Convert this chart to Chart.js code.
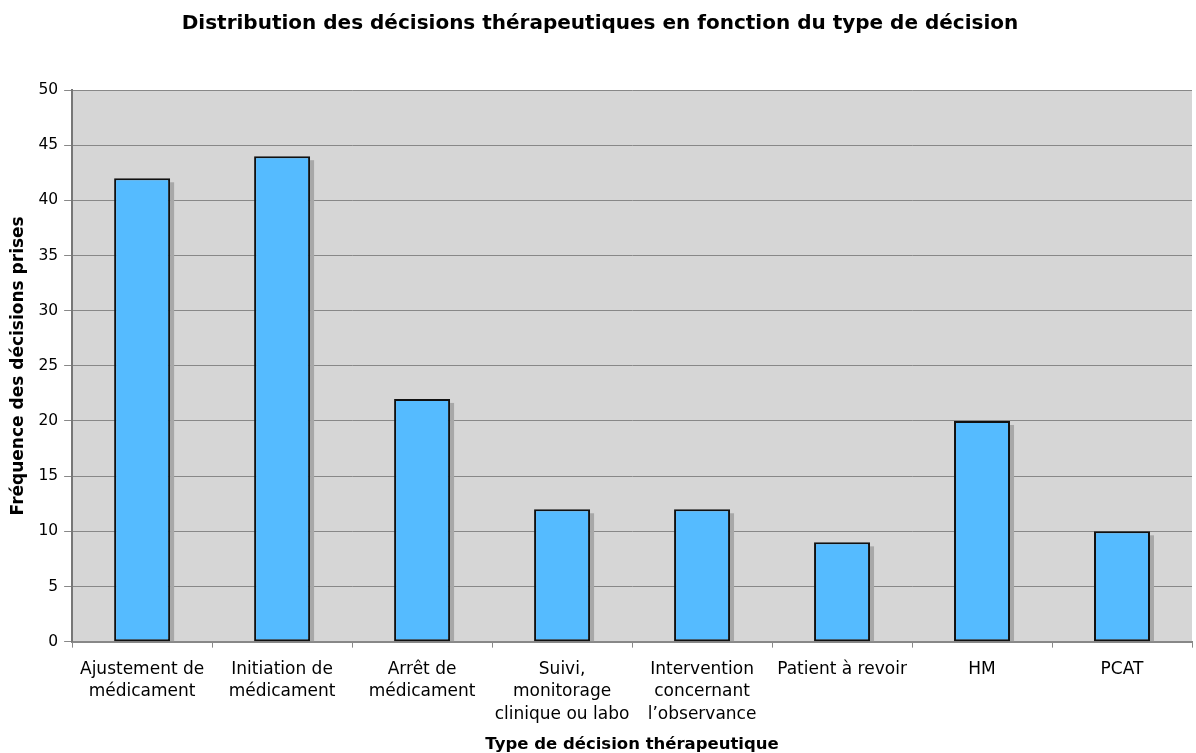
<!DOCTYPE html>
<html>
<head>
<meta charset="utf-8">
<script src="https://cdn.jsdelivr.net/npm/chart.js@4/dist/chart.umd.min.js"></script>
<style>
  html, body { margin: 0; padding: 0; background: white; }
  #wrap { width: 1196px; height: 753px; }
</style>
</head>
<body>
<div id="wrap"><canvas id="canvas" width="1196" height="753"></canvas></div>
<script>
// Data
var categories = [
  ['Ajustement de', 'médicament'],
  ['Initiation de', 'médicament'],
  ['Arrêt de', 'médicament'],
  ['Suivi,', 'monitorage', 'clinique ou labo'],
  ['Intervention', 'concernant', 'l\u2019observance'],
  'Patient à revoir',
  'HM',
  'PCAT'
];
var frequencies = [42, 44, 22, 12, 12, 9, 20, 10];
var yTicks = [0, 5, 10, 15, 20, 25, 30, 35, 40, 45, 50];

var font = 'DejaVu Sans, Verdana, sans-serif';

// Grey plot area background
var plotBackground = {
  id: 'plotBackground',
  beforeDraw: function(chart) {
    var a = chart.chartArea;
    var ctx = chart.ctx;
    ctx.save();
    ctx.fillStyle = '#d6d6d6';
    ctx.fillRect(a.left, a.top, a.right - a.left, a.bottom - a.top);
    ctx.restore();
  }
};

// Small drop shadow to the right of each bar
var barShadow = {
  id: 'barShadow',
  beforeDatasetsDraw: function(chart) {
    var ctx = chart.ctx;
    ctx.save();
    ctx.fillStyle = '#a8a8a8';
    chart.getDatasetMeta(0).data.forEach(function(bar) {
      var right = bar.x + bar.width / 2;
      ctx.fillRect(right, bar.y + 4, 4, bar.base - bar.y - 4);
    });
    ctx.restore();
  }
};

var ctx = document.getElementById('canvas').getContext('2d');
new Chart(ctx, {
  type: 'bar',
  data: {
    labels: categories,
    datasets: [{
      data: frequencies,
      backgroundColor: '#55bbff',
      borderColor: '#111111',
      borderWidth: 2,
      borderSkipped: false,
      categoryPercentage: 0.4,
      barPercentage: 1.0
    }]
  },
  options: {
    responsive: false,
    animation: false,
    layout: { padding: { top: 12, right: 4, left: 8, bottom: 0 } },
    plugins: {
      legend: { display: false },
      tooltip: { enabled: false },
      title: {
        display: true,
        text: 'Distribution des décisions thérapeutiques en fonction du type de décision',
        color: '#000',
        font: { family: font, size: 20, weight: 'bold' },
        padding: { top: 0, bottom: 54 }
      }
    },
    scales: {
      x: {
        grid: {
          display: true,
          drawOnChartArea: false,
          drawTicks: true,
          tickLength: 6,
          offset: true,
          color: '#888888'
        },
        border: { color: '#888888', width: 2 },
        ticks: {
          color: '#000',
          font: { family: font, size: 17, lineHeight: 1.35 },
          maxRotation: 0,
          autoSkip: false,
          padding: 10
        },
        title: {
          display: true,
          text: 'Type de décision thérapeutique',
          color: '#000',
          font: { family: font, size: 16.5, weight: 'bold', lineHeight: 1.0 },
          padding: { top: 0, bottom: 0 }
        }
      },
      y: {
        min: 0,
        max: 50,
        afterBuildTicks: function(axis) {
          axis.ticks = yTicks.map(function(v) { return { value: v }; });
        },
        grid: {
          color: '#888888',
          tickLength: 8,
          lineWidth: 1
        },
        border: { color: '#777777', width: 2 },
        ticks: {
          color: '#000',
          font: { family: font, size: 15.5 },
          padding: 6
        },
        title: {
          display: true,
          text: 'Fréquence des décisions prises',
          color: '#000',
          font: { family: font, size: 17, weight: 'bold' },
          padding: { top: 0, bottom: 4 }
        }
      }
    }
  },
  plugins: [plotBackground, barShadow]
});
</script>
</body>
</html>
